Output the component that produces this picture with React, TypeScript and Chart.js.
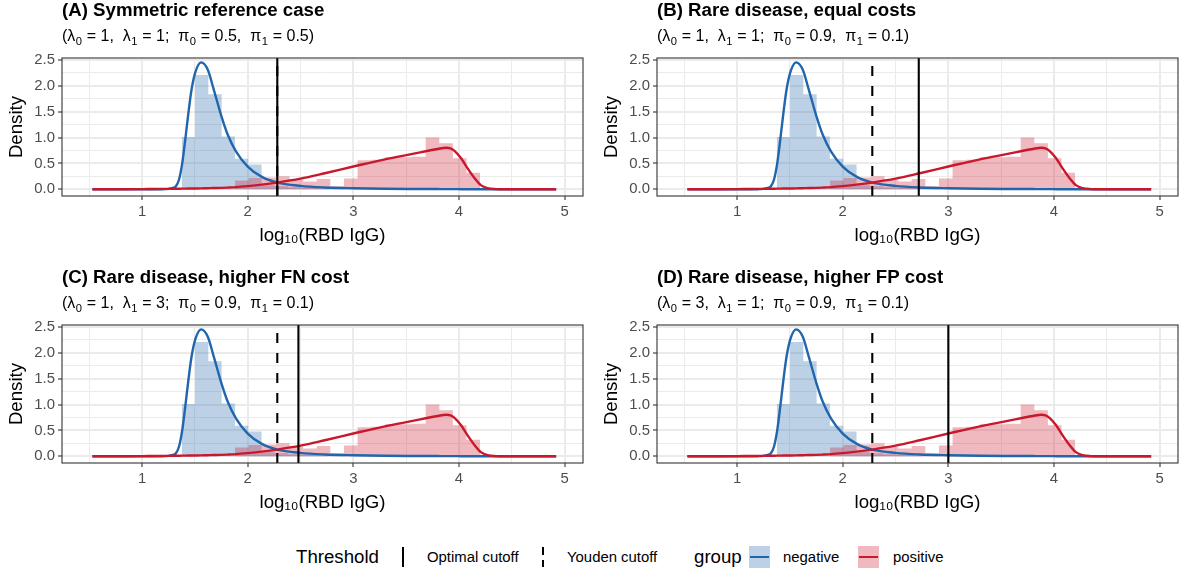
import React, { useEffect, useRef } from "react";
import { Chart, registerables } from "chart.js";

Chart.register(...registerables);

const FONT = "'Liberation Sans', Arial, Helvetica, sans-serif";
Chart.defaults.font.family = FONT;

// ---------- data ----------
const panelTitles = [
  "(A) Symmetric reference case",
  "(B) Rare disease, equal costs",
  "(C) Rare disease, higher FN cost",
  "(D) Rare disease, higher FP cost",
];
const panelSubtitles = [
  "(λ₀ = 1,  λ₁ = 1;  π₀ = 0.5,  π₁ = 0.5)",
  "(λ₀ = 1,  λ₁ = 1;  π₀ = 0.9,  π₁ = 0.1)",
  "(λ₀ = 1,  λ₁ = 3;  π₀ = 0.9,  π₁ = 0.1)",
  "(λ₀ = 3,  λ₁ = 1;  π₀ = 0.9,  π₁ = 0.1)",
];
const optimalCutoffs = [2.28, 2.72, 2.48, 3.0];
const youdenCutoffs = [2.28, 2.28, 2.28, 2.28];

const negBinEdges = [1.375, 1.501, 1.627, 1.753, 1.879, 2.005, 2.131, 2.257, 2.383, 2.509, 2.635, 2.761];
const negBinHeights = [1.01, 2.21, 1.84, 1.02, 0.59, 0.48, 0.08, 0.06, 0.04, 0.03, 0.02];

const posBinEdges = [1.88, 2.009, 2.138, 2.267, 2.396, 2.525, 2.653, 2.782, 2.911, 3.04, 3.169, 3.298, 3.427, 3.556, 3.685, 3.814, 3.942, 4.071, 4.2];
const posBinHeights = [0.17, 0.22, 0.23, 0.25, 0.19, 0.15, 0.2, 0.06, 0.21, 0.56, 0.57, 0.62, 0.62, 0.63, 1.0, 0.89, 0.6, 0.32];

const curveX = [0.53, 0.8, 1.0, 1.1, 1.2, 1.25, 1.29, 1.32, 1.35, 1.38, 1.41, 1.44, 1.47, 1.51, 1.56, 1.62, 1.68, 1.75, 1.81, 1.89, 2.0, 2.13, 2.28, 2.5, 2.73, 3.0, 3.3, 3.55, 3.8, 3.88, 3.92, 3.96, 4.02, 4.08, 4.15, 4.21, 4.27, 4.35, 4.45, 4.6, 4.92];
const negDensity = [0, 0, 0, 0, 0.002, 0.008, 0.025, 0.06, 0.19, 0.5, 0.98, 1.5, 1.95, 2.3, 2.455, 2.32, 1.92, 1.42, 1.06, 0.73, 0.44, 0.245, 0.13, 0.065, 0.035, 0.02, 0.01, 0.006, 0.004, 0.003, 0.003, 0.003, 0.002, 0.002, 0.002, 0.001, 0.001, 0.001, 0, 0, 0];
const posDensity = [0, 0.001, 0.003, 0.005, 0.007, 0.008, 0.009, 0.01, 0.011, 0.012, 0.013, 0.014, 0.015, 0.016, 0.018, 0.021, 0.024, 0.028, 0.033, 0.042, 0.062, 0.09, 0.13, 0.205, 0.31, 0.44, 0.58, 0.68, 0.78, 0.805, 0.79, 0.74, 0.6, 0.41, 0.21, 0.075, 0.022, 0.004, 0, 0, 0];

const xAxisTitle = "log₁₀(RBD IgG)";
const yAxisTitle = "Density";

// ---------- style ----------
const X_MIN = 0.242;
const X_MAX = 5.174;
const Y_MIN = -0.13;
const Y_MAX = 2.54;
const NEG = "#2166AC";
const POS = "#C9182C";
const NEG_FILL = "rgba(33,102,172,0.3)";
const POS_FILL = "rgba(201,24,44,0.3)";
const W = 595;
const H = 267;

function stepOutline(edges: number[], heights: number[]) {
  const pts = [{ x: edges[0], y: 0 }];
  for (let i = 0; i < heights.length; i++) pts.push({ x: edges[i], y: heights[i] });
  pts.push({ x: edges[edges.length - 1], y: 0 });
  return pts;
}

const isMult = (v: number, s: number) => Math.abs(v / s - Math.round(v / s)) < 1e-6;

const SUBS: Record<string, string> = { "₀": "0", "₁": "1", "₂": "2", "₃": "3" };

const panelBorder = {
  id: "panelBorder",
  afterDatasetsDraw(chart: any) {
    const { ctx, chartArea: a } = chart;
    ctx.save();
    ctx.strokeStyle = "#333333";
    ctx.lineWidth = 1.1;
    ctx.strokeRect(a.left, a.top, a.right - a.left, a.bottom - a.top);
    ctx.restore();
  },
};

// subtitle with true subscripts (plotmath-like), drawn above the panel
const richSubtitle = {
  id: "richSubtitle",
  afterDraw(chart: any, _args: any, opts: any) {
    const text: string = opts.text || "";
    const { ctx, chartArea } = chart;
    const baseline = 41.3;
    let x = chartArea.left;
    ctx.save();
    ctx.fillStyle = "#000";
    ctx.textBaseline = "alphabetic";
    ctx.textAlign = "left";
    let buf = "";
    const flush = () => {
      if (!buf) return;
      ctx.font = `16px ${FONT}`;
      ctx.fillText(buf, x, baseline);
      x += ctx.measureText(buf).width;
      buf = "";
    };
    for (const ch of Array.from(text)) {
      if (SUBS[ch] !== undefined) {
        flush();
        ctx.font = `11.2px ${FONT}`;
        ctx.fillText(SUBS[ch], x + 0.5, baseline + 3.4);
        x += ctx.measureText(SUBS[ch]).width + 0.8;
      } else {
        buf += ch;
      }
    }
    flush();
    ctx.restore();
  },
};

function Panel({ idx }: { idx: number }) {
  const ref = useRef<HTMLCanvasElement>(null);
  useEffect(() => {
    const canvas = ref.current;
    if (!canvas) return;
    const chart = new Chart(canvas, {
      type: "line",
      data: {
        datasets: [
          {
            label: "Optimal cutoff",
            data: [{ x: optimalCutoffs[idx], y: Y_MIN }, { x: optimalCutoffs[idx], y: Y_MAX }],
            borderColor: "#000",
            borderWidth: 2.1,
            order: 0,
          },
          {
            label: "Youden cutoff",
            data: [{ x: youdenCutoffs[idx], y: Y_MIN }, { x: youdenCutoffs[idx], y: Y_MAX }],
            borderColor: "#000",
            borderWidth: 2.1,
            borderDash: [10, 10],
            order: 1,
          },
          {
            label: "positive",
            data: curveX.map((x, i) => ({ x, y: posDensity[i] })),
            borderColor: POS,
            borderWidth: 2.4,
            cubicInterpolationMode: "monotone",
            order: 2,
          },
          {
            label: "negative",
            data: curveX.map((x, i) => ({ x, y: negDensity[i] })),
            borderColor: NEG,
            borderWidth: 2.4,
            cubicInterpolationMode: "monotone",
            order: 3,
          },
          {
            label: "positive histogram",
            data: stepOutline(posBinEdges, posBinHeights),
            stepped: true,
            fill: "origin",
            backgroundColor: POS_FILL,
            borderColor: "rgba(0,0,0,0)",
            borderWidth: 0,
            order: 4,
          },
          {
            label: "negative histogram",
            data: stepOutline(negBinEdges, negBinHeights),
            stepped: true,
            fill: "origin",
            backgroundColor: NEG_FILL,
            borderColor: "rgba(0,0,0,0)",
            borderWidth: 0,
            order: 5,
          },
        ] as any,
      },
      options: {
        animation: false,
        responsive: false,
        devicePixelRatio: 1,
        events: [],
        layout: { padding: { left: 0, right: 12, top: 0, bottom: 20.3 } },
        elements: { point: { radius: 0 }, line: { tension: 0 } },
        plugins: {
          legend: { display: false },
          tooltip: { enabled: false },
          title: {
            display: true,
            text: panelTitles[idx],
            align: "start",
            fullSize: false,
            color: "#000",
            font: { family: FONT, size: 18.67, weight: "bold", lineHeight: 1.2 },
            padding: { top: 0, bottom: 35.6 },
          },
          subtitle: { display: false },
          richSubtitle: { text: panelSubtitles[idx] },
        },
        scales: {
          x: {
            type: "linear",
            min: X_MIN,
            max: X_MAX,
            afterFit: (s: any) => {
              s.height = 50.7;
            },
            border: { display: false },
            grid: {
              color: "#EBEBEB",
              lineWidth: (c: any) => (c.tick && isMult(c.tick.value, 1) ? 2 : 1),
              drawTicks: true,
              tickLength: 4,
              tickWidth: 1.1,
              tickColor: (c: any) => (c.tick && isMult(c.tick.value, 1) ? "#333333" : "rgba(0,0,0,0)"),
            },
            ticks: {
              stepSize: 0.5,
              includeBounds: false,
              autoSkip: false,
              maxTicksLimit: 40,
              maxRotation: 0,
              minRotation: 0,
              padding: 3,
              color: "#4D4D4D",
              font: { family: FONT, size: 14.9, lineHeight: 1.2 },
              callback: (v: any) => (isMult(Number(v), 1) ? String(Math.round(Number(v))) : ""),
            },
            title: {
              display: true,
              text: xAxisTitle,
              color: "#000",
              font: { family: FONT, size: 18.67, lineHeight: 1.2 },
              padding: { top: 0, bottom: 0 },
            },
          },
          y: {
            type: "linear",
            min: Y_MIN,
            max: Y_MAX,
            afterFit: (s: any) => {
              s.width = 62;
            },
            border: { display: false },
            grid: {
              color: "#EBEBEB",
              lineWidth: (c: any) => (c.tick && isMult(c.tick.value, 0.5) ? 2 : 1),
              drawTicks: true,
              tickLength: 4,
              tickWidth: 1.1,
              tickColor: (c: any) => (c.tick && isMult(c.tick.value, 0.5) ? "#333333" : "rgba(0,0,0,0)"),
            },
            ticks: {
              stepSize: 0.25,
              includeBounds: false,
              autoSkip: false,
              maxTicksLimit: 40,
              padding: 3,
              color: "#4D4D4D",
              font: { family: FONT, size: 14.9, lineHeight: 1.2 },
              callback: (v: any) => (isMult(Number(v), 0.5) ? Number(v).toFixed(1) : ""),
            },
            title: {
              display: true,
              text: yAxisTitle,
              color: "#000",
              font: { family: FONT, size: 18.67, lineHeight: 1.0 },
              padding: { top: 7.7, bottom: 0 },
            },
          },
        },
      } as any,
      plugins: [panelBorder, richSubtitle],
    });
    return () => chart.destroy();
  }, [idx]);
  return (
    <canvas
      ref={ref}
      width={W}
      height={H}
      style={{ position: "absolute", left: (idx % 2) * W, top: Math.floor(idx / 2) * H, width: W, height: H }}
    />
  );
}

const legendTitleStyle: React.CSSProperties = { position: "absolute", fontSize: 18.67, lineHeight: "22px", top: 0, whiteSpace: "nowrap", color: "#000" };
const legendLabelStyle: React.CSSProperties = { position: "absolute", fontSize: 14.9, lineHeight: "22px", top: 0, whiteSpace: "nowrap", color: "#000" };

function Legend() {
  return (
    <div style={{ position: "absolute", left: 0, top: 546, width: 1190, height: 22, fontFamily: FONT }}>
      <span style={{ ...legendTitleStyle, left: 296 }}>Threshold</span>
      <div style={{ position: "absolute", left: 402, top: 1, width: 2, height: 20, background: "#000" }} />
      <span style={{ ...legendLabelStyle, left: 427 }}>Optimal cutoff</span>
      <div
        style={{
          position: "absolute",
          left: 542,
          top: 1,
          width: 2,
          height: 20,
          background: "linear-gradient(to bottom, #000 0 8px, transparent 8px 13px, #000 13px 20px)",
        }}
      />
      <span style={{ ...legendLabelStyle, left: 567 }}>Youden cutoff</span>
      <span style={{ ...legendTitleStyle, left: 694 }}>group</span>
      <div style={{ position: "absolute", left: 749, top: 0, width: 21, height: 22, background: NEG_FILL }}>
        <div style={{ position: "absolute", left: 1, right: 1, top: 10, height: 2.4, background: NEG }} />
      </div>
      <span style={{ ...legendLabelStyle, left: 783 }}>negative</span>
      <div style={{ position: "absolute", left: 858, top: 0, width: 21, height: 22, background: POS_FILL }}>
        <div style={{ position: "absolute", left: 1, right: 1, top: 10, height: 2.4, background: POS }} />
      </div>
      <span style={{ ...legendLabelStyle, left: 893 }}>positive</span>
    </div>
  );
}

export default function App() {
  return (
    <div style={{ position: "absolute", left: 0, top: 0, width: 1190, height: 576, background: "#fff", fontFamily: FONT }}>
      <Panel idx={0} />
      <Panel idx={1} />
      <Panel idx={2} />
      <Panel idx={3} />
      <Legend />
    </div>
  );
}
